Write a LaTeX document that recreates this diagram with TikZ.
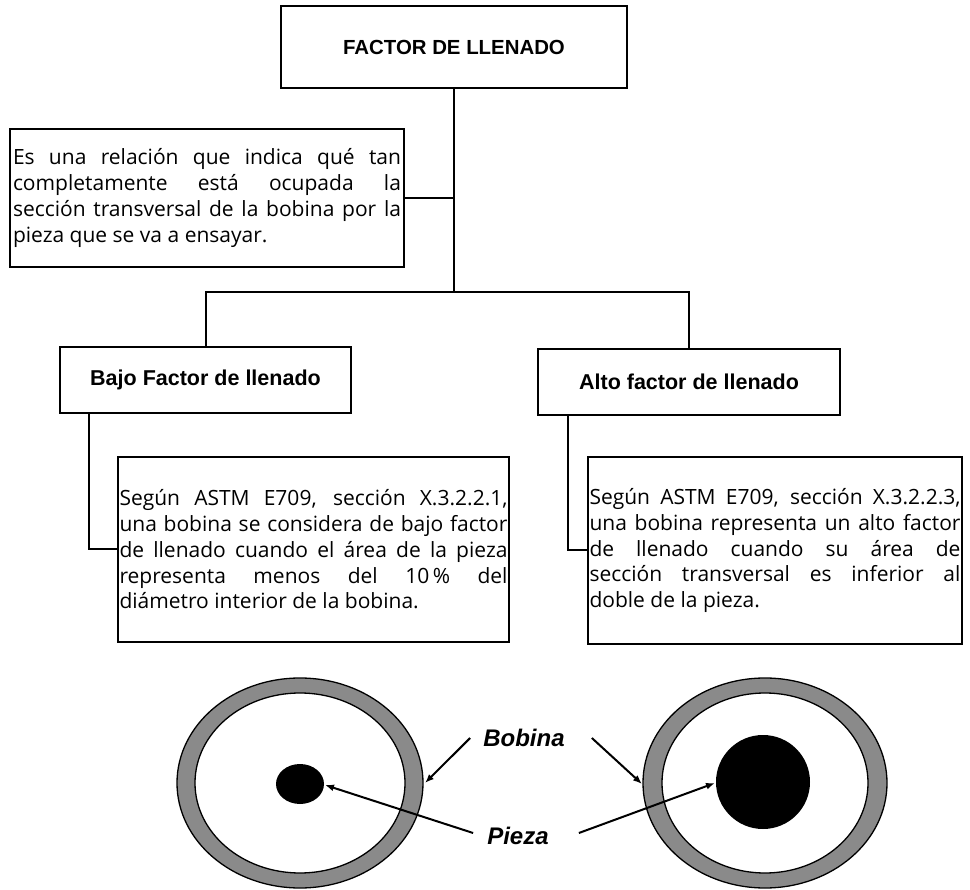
\documentclass[tikz,border=0pt]{standalone}
\usepackage{fontspec}
\setmainfont{Open Sans}
\newfontfamily\headfont{Liberation Sans}
\usetikzlibrary{arrows.meta}

\definecolor{ringgray}{RGB}{138,138,138}

\tikzset{
  box/.style={draw, line width=2pt, inner sep=0pt, outer sep=0pt, fill=white},
  titlebox/.style={box, font=\headfont\bfseries\fontsize{20.4}{24}\selectfont},
  headbox/.style={box, font=\headfont\bfseries\fontsize{21.5}{25}\selectfont},
  textbox/.style={box, align=justify, font=\fontsize{21}{25.7}\selectfont},
  wire/.style={line width=2pt},
  pointer/.style={line width=2pt, -{Latex[length=9pt,width=7pt]}},
  label/.style={font=\headfont\bfseries\itshape\fontsize{24}{28}\selectfont, inner sep=0pt},
}

\begin{document}
\begin{tikzpicture}[x=1pt, y=-1pt]
\useasboundingbox (0,0) rectangle (970,890);

% ---- boxes ----
\node[titlebox, minimum width=346, minimum height=82] (top) at (454,47) {FACTOR DE LLENADO};

\node[textbox, minimum width=394, minimum height=138, text width=388] (desc) at (207,198)
  {Es una relación que indica qué tan\linebreak
   completamente está ocupada la\linebreak
   sección transversal de la bobina por la\linebreak
   pieza que se va a ensayar.};

\node[headbox, minimum width=291, minimum height=66] (bajo) at (205.5,380) {Bajo Factor de llenado};
\node[headbox, minimum width=302, minimum height=66] (alto) at (689,382) {Alto factor de llenado};

\node[textbox, minimum width=391, minimum height=185, text width=388] (bajotxt) at (313.5,549.5)
  {Según ASTM E709, sección X.3.2.2.1,\linebreak
   una bobina se considera de bajo factor\linebreak
   de llenado cuando el área de la pieza\linebreak
   representa menos del 10\,\% del\linebreak
   diámetro interior de la bobina.};

\node[textbox, minimum width=374, minimum height=187, text width=371] (altotxt) at (775,550.5)
  {Según ASTM E709, sección X.3.2.2.3,\linebreak
   una bobina representa un alto factor\linebreak
   de llenado cuando su área de\linebreak
   sección transversal es inferior al\linebreak
   doble de la pieza.};

% ---- tree connectors ----
\coordinate (bar) at (454,292);
\draw[wire] (top.south) -- (bar);
\draw[wire] (desc.east) -- (desc.east -| top.south);
\draw[wire] (bajo.north) |- (bar) -| (alto.north);
\draw[wire] ([xshift=29pt]bajo.south west) |- (bajotxt.west);
\draw[wire] ([xshift=30pt]alto.south west) |- (altotxt.west);

% ---- coil cross-sections ----
\fill[ringgray, even odd rule] (300,783) ellipse [x radius=123, y radius=105]
                               (300,783) ellipse [x radius=105, y radius=90];
\draw[line width=1.3pt] (300,783) ellipse [x radius=123, y radius=105];
\draw[line width=1.3pt] (300,783) ellipse [x radius=105, y radius=90];
\fill (300,784) ellipse [x radius=24, y radius=20];

\fill[ringgray, even odd rule] (765,783) ellipse [x radius=122, y radius=105]
                               (765,783) ellipse [x radius=103, y radius=90];
\draw[line width=1.3pt] (765,783) ellipse [x radius=122, y radius=105];
\draw[line width=1.3pt] (765,783) ellipse [x radius=103, y radius=90];
\fill (763,782) circle [radius=47];

% ---- labels and pointers ----
\node[label] (bobina) at (524,738) {Bobina};
\node[label] (pieza) at (518,836) {Pieza};

\coordinate (coilL) at (425,783);
\coordinate (coilR) at (642,784);
\coordinate (coreL) at (325,785);
\coordinate (coreR) at (715,783);

\draw[pointer] ([xshift=-13pt]bobina.west) -- (coilL);
\draw[pointer] ([xshift=27pt]bobina.east) -- (coilR);
\draw[pointer] ([xshift=-14pt,yshift=3pt]pieza.west) -- (coreL);
\draw[pointer] ([xshift=30pt,yshift=3pt]pieza.east) -- (coreR);
\end{tikzpicture}
\end{document}
